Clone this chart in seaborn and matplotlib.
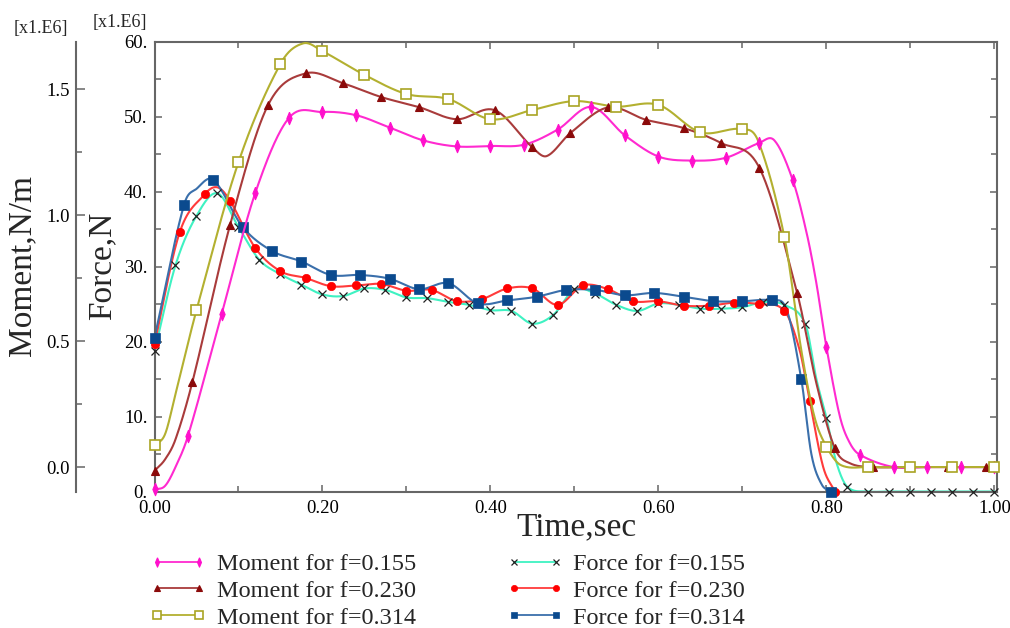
import numpy as np
import matplotlib
matplotlib.use("Agg")
import matplotlib.pyplot as plt
from matplotlib.lines import Line2D
from matplotlib.ticker import MultipleLocator, FuncFormatter
import seaborn as sns

# ---------------------------------------------------------------- data
# Force [N] (x1.E6) for three feed values
force_155_t = [0.000, 0.025, 0.050, 0.075, 0.100, 0.125, 0.150, 0.175, 0.200, 0.225,
               0.250, 0.275, 0.300, 0.325, 0.350, 0.375, 0.400, 0.425, 0.450, 0.475,
               0.500, 0.525, 0.550, 0.575, 0.600, 0.625, 0.650, 0.675, 0.700, 0.725,
               0.750, 0.775, 0.788, 0.800, 0.812, 0.825, 0.850, 0.875, 0.900, 0.925,
               0.950, 0.975, 1.000]
force_155_v = [18.7, 30.2, 36.8, 39.8, 35.3, 30.9, 29.0, 27.6, 26.3, 26.1,
               27.1, 26.9, 25.9, 25.8, 25.3, 24.9, 24.2, 24.1, 22.4, 23.6,
               27.0, 26.4, 24.9, 24.1, 25.1, 24.9, 24.4, 24.4, 24.6, 25.3,
               24.9, 22.3, 15.0, 9.8, 3.8, 0.6, 0.0, 0.0, 0.0, 0.0,
               0.0, 0.0, 0.0]
force_155_step = 0.025

force_230_t = [0.000, 0.030, 0.060, 0.075, 0.090, 0.120, 0.150, 0.180, 0.210, 0.240,
               0.270, 0.300, 0.330, 0.360, 0.390, 0.420, 0.450, 0.480, 0.510, 0.540,
               0.570, 0.600, 0.630, 0.660, 0.690, 0.720, 0.750, 0.768, 0.780, 0.796,
               0.810]
force_230_v = [19.7, 34.6, 39.7, 40.6, 38.8, 32.5, 29.4, 28.5, 27.4, 27.5,
               27.7, 26.8, 26.9, 25.4, 25.7, 27.1, 27.1, 24.9, 27.5, 27.0,
               25.4, 25.4, 24.8, 24.8, 25.2, 25.0, 24.1, 18.9, 12.1, 3.3,
               0.0]
force_230_step = 0.030

force_314_t = [0.000, 0.035, 0.050, 0.070, 0.105, 0.140, 0.175, 0.210, 0.245, 0.280,
               0.315, 0.350, 0.385, 0.420, 0.455, 0.490, 0.525, 0.560, 0.595, 0.630,
               0.665, 0.700, 0.735, 0.7525, 0.770, 0.782, 0.794, 0.805]
force_314_v = [20.5, 38.2, 40.4, 41.6, 35.3, 32.1, 30.7, 28.9, 28.9, 28.4,
               27.0, 27.8, 25.1, 25.5, 26.0, 26.9, 26.9, 26.2, 26.5, 26.0,
               25.4, 25.4, 25.5, 24.3, 15.0, 5.0, 1.0, 0.0]
force_314_step = 0.035

# Moment [N/m] (x1.E6) for three feed values
moment_155_t = [0.000, 0.0125, 0.025, 0.040, 0.080, 0.120, 0.160, 0.200, 0.240, 0.280,
                0.320, 0.360, 0.400, 0.440, 0.480, 0.520, 0.560, 0.600, 0.640, 0.680,
                0.720, 0.738, 0.760, 0.7765, 0.788, 0.800, 0.816, 0.828, 0.840, 0.880,
                0.920, 0.960, 1.000]
moment_155_v = [-0.089, -0.075, 0.000, 0.125, 0.608, 1.088, 1.385, 1.409, 1.396, 1.347,
                1.296, 1.272, 1.274, 1.279, 1.339, 1.429, 1.316, 1.232, 1.216, 1.227,
                1.286, 1.296, 1.137, 0.927, 0.729, 0.475, 0.200, 0.094, 0.048, 0.000,
                0.000, 0.000, 0.000]
moment_155_step = 0.040

moment_230_t = [0.000, 0.0125, 0.025, 0.045, 0.090, 0.135, 0.180, 0.225, 0.270, 0.315,
                0.360, 0.405, 0.450, 0.467, 0.495, 0.540, 0.585, 0.630, 0.675, 0.720,
                0.765, 0.788, 0.810, 0.828, 0.855, 0.900, 0.945, 0.990, 1.000]
moment_230_v = [-0.015, 0.030, 0.110, 0.336, 0.961, 1.435, 1.562, 1.522, 1.468, 1.428,
                1.380, 1.416, 1.268, 1.234, 1.325, 1.427, 1.378, 1.345, 1.285, 1.188,
                0.692, 0.332, 0.074, 0.015, 0.000, 0.000, 0.000, 0.000, 0.000]
moment_230_step = 0.045

moment_314_t = [0.000, 0.0125, 0.025, 0.050, 0.100, 0.150, 0.177, 0.200, 0.250, 0.300,
                0.350, 0.400, 0.450, 0.500, 0.550, 0.600, 0.650, 0.700, 0.719, 0.750,
                0.770, 0.7856, 0.800, 0.817, 0.850, 0.900, 0.950, 1.000]
moment_314_v = [0.087, 0.130, 0.290, 0.623, 1.210, 1.600, 1.681, 1.650, 1.556, 1.480,
                1.460, 1.380, 1.417, 1.452, 1.430, 1.437, 1.328, 1.341, 1.291, 0.911,
                0.464, 0.200, 0.081, 0.008, 0.000, 0.000, 0.000, 0.000]
moment_314_step = 0.050

legend_labels = ["Moment for f=0.155", "Moment for f=0.230", "Moment for f=0.314",
                 "Force for f=0.155", "Force for f=0.230", "Force for f=0.314"]
x_label = "Time,sec"
force_label = "Force,N"
moment_label = "Moment,N/m"
scale_label = "[x1.E6]"

# ---------------------------------------------------------------- helpers
def smooth_path(t, v, n=30):
    """Cubic Hermite (Catmull-Rom style) path through the sampled points."""
    t = np.asarray(t, float)
    v = np.asarray(v, float)
    m = np.empty_like(v)
    m[1:-1] = (v[2:] - v[:-2]) / (t[2:] - t[:-2])
    m[0] = (v[1] - v[0]) / (t[1] - t[0])
    m[-1] = (v[-1] - v[-2]) / (t[-1] - t[-2])
    xs, ys = [], []
    for i in range(len(t) - 1):
        h = t[i + 1] - t[i]
        s = np.linspace(0, 1, n, endpoint=(i == len(t) - 2))
        h00 = 2 * s**3 - 3 * s**2 + 1
        h10 = s**3 - 2 * s**2 + s
        h01 = -2 * s**3 + 3 * s**2
        h11 = s**3 - s**2
        xs.append(t[i] + s * h)
        ys.append(h00 * v[i] + h10 * h * m[i] + h01 * v[i + 1] + h11 * h * m[i + 1])
    return np.concatenate(xs), np.concatenate(ys)


def marker_mask(t, step):
    q = np.asarray(t, float) / step
    return np.isclose(q, np.round(q), atol=1e-6)


# ---------------------------------------------------------------- style
sns.set_theme(style="white")
plt.rcParams["font.family"] = ["Liberation Serif", "DejaVu Serif"]
plt.rcParams["axes.unicode_minus"] = False

spine_col = "#666666"
diamond = [(0, 1), (0.42, 0), (0, -1), (-0.42, 0), (0, 1)]

styles = {
    "m155": dict(line="#ff2ad0", marker=diamond, ms=9, mfc="#ff10cc", mec="#ff10cc", mew=0.8),
    "m230": dict(line="#a93b3b", marker="^", ms=6, mfc="#8b0a0a", mec="#8b0a0a", mew=0.8),
    "m314": dict(line="#b3b030", marker="s", ms=7.5, mfc="white", mec="#a9a424", mew=1.2),
    "f155": dict(line="#3ef2c2", marker="x", ms=6, mfc="#222222", mec="#222222", mew=0.9),
    "f230": dict(line="#ff3b3b", marker="o", ms=6, mfc="#ff0000", mec="#ff0000", mew=0.5),
    "f314": dict(line="#3a6fab", marker="s", ms=6.5, mfc="#0b4a8e", mec="#0b4a8e", mew=0.5),
}

# ---------------------------------------------------------------- figure
W, H = 1010, 628
fig = plt.figure(figsize=(W / 100, H / 100), dpi=100)
fig.patch.set_facecolor("white")

x0, x1, ytop, ybot = 154.5, 997.0, 42.0, 491.5
ax = fig.add_axes([x0 / W, 1 - ybot / H, (x1 - x0) / W, (ybot - ytop) / H])
ax2 = ax.twinx()

series_force = [
    ("f155", force_155_t, force_155_v, force_155_step),
    ("f230", force_230_t, force_230_v, force_230_step),
    ("f314", force_314_t, force_314_v, force_314_step),
]
series_moment = [
    ("m155", moment_155_t, moment_155_v, moment_155_step),
    ("m230", moment_230_t, moment_230_v, moment_230_step),
    ("m314", moment_314_t, moment_314_v, moment_314_step),
]


def draw(target, key, t, v, step):
    st = styles[key]
    xs, ys = smooth_path(t, v)
    sns.lineplot(x=xs, y=ys, ax=target, color=st["line"], lw=1.5,
                 sort=False, estimator=None, legend=False)
    mk = marker_mask(t, step)
    target.plot(np.asarray(t)[mk], np.asarray(v)[mk], ls="none", marker=st["marker"],
                ms=st["ms"], mfc=st["mfc"], mec=st["mec"], mew=st["mew"],
                clip_on=False, zorder=4)


for key, t, v, step in series_force:
    draw(ax, key, t, v, step)
for key, t, v, step in series_moment:
    draw(ax2, key, t, v, step)

# ---------------------------------------------------------------- axes
ax.set_xlim(0, 1.003)
ax.set_ylim(0, 60)
ax2.set_ylim(-0.097, 1.6865)

ax.xaxis.set_major_locator(MultipleLocator(0.2))
ax.xaxis.set_minor_locator(MultipleLocator(0.1))
ax.yaxis.set_major_locator(MultipleLocator(10))
ax.yaxis.set_minor_locator(MultipleLocator(5))
ax.xaxis.set_major_formatter(FuncFormatter(lambda v, p: f"{v:.2f}"))
ax.yaxis.set_major_formatter(FuncFormatter(lambda v, p: f"{v:.0f}."))

ax2.yaxis.set_major_locator(MultipleLocator(0.5))
ax2.yaxis.set_minor_locator(MultipleLocator(0.25))
ax2.yaxis.set_major_formatter(FuncFormatter(lambda v, p: f"{v:.1f}"))

for sp in ax.spines.values():
    sp.set_color(spine_col)
    sp.set_linewidth(1.5)
for name in ("top", "right", "bottom"):
    ax2.spines[name].set_visible(False)
ax2.spines["left"].set_visible(True)
ax2.spines["left"].set_position(("axes", (76 - x0) / (x1 - x0)))
ax2.spines["left"].set_color(spine_col)
ax2.spines["left"].set_linewidth(1.5)
ax2.yaxis.tick_left()
ax2.yaxis.set_label_position("left")

tick_font = 13.5
ax.tick_params(axis="both", which="both", direction="in", color=spine_col,
               top=True, right=True, bottom=True, left=True,
               labelsize=tick_font, labelcolor="black", width=1.1)
ax.tick_params(axis="both", which="major", length=5)
ax.tick_params(axis="both", which="minor", length=4)
ax.tick_params(axis="y", which="major", pad=5)
ax.tick_params(axis="x", which="major", pad=6)
ax.tick_params(axis="x", which="minor", top=True, bottom=True)
ax2.tick_params(axis="y", which="both", direction="in", color=spine_col,
                left=True, right=False, labelleft=True, labelright=False,
                labelsize=tick_font, labelcolor="black", width=1.1, pad=4.5)
ax2.tick_params(axis="y", which="major", length=6.5)
ax2.tick_params(axis="y", which="minor", length=4)
ax.grid(False)
ax2.grid(False)
ax.set_xlabel("")
ax.set_ylabel("")
ax2.set_ylabel("")

# ---------------------------------------------------------------- labels
fig.text(41 / W, 1 - 28 / H, scale_label, ha="center", va="center", fontsize=13)
fig.text(120 / W, 1 - 23 / H, scale_label, ha="center", va="center", fontsize=13)
fig.text(22 / W, 1 - 266 / H, moment_label, rotation=90, ha="center", va="center",
         fontsize=24)
fig.text(102 / W, 1 - 266 / H, force_label, rotation=90, ha="center", va="center",
         fontsize=24)
fig.text(576 / W, 1 - 535 / H, x_label, ha="center", va="baseline", fontsize=24)

# ---------------------------------------------------------------- legend
handles = []
for key in ("m155", "m230", "m314", "f155", "f230", "f314"):
    st = styles[key]
    handles.append(Line2D([0], [0], color=st["line"], lw=1.3, marker=st["marker"],
                          ms=st["ms"], mfc=st["mfc"], mec=st["mec"], mew=st["mew"]))
fig.legend(handles, legend_labels, ncol=2, loc="upper left",
           bbox_to_anchor=(150 / W, 1 - 553 / H), frameon=False, fontsize=17.5,
           handlelength=2.33, handletextpad=0.42, columnspacing=3.72,
           labelspacing=0.2, numpoints=2, markerscale=0.75,
           borderpad=0, borderaxespad=0)

fig.savefig("out.png", dpi=100, facecolor="white")
